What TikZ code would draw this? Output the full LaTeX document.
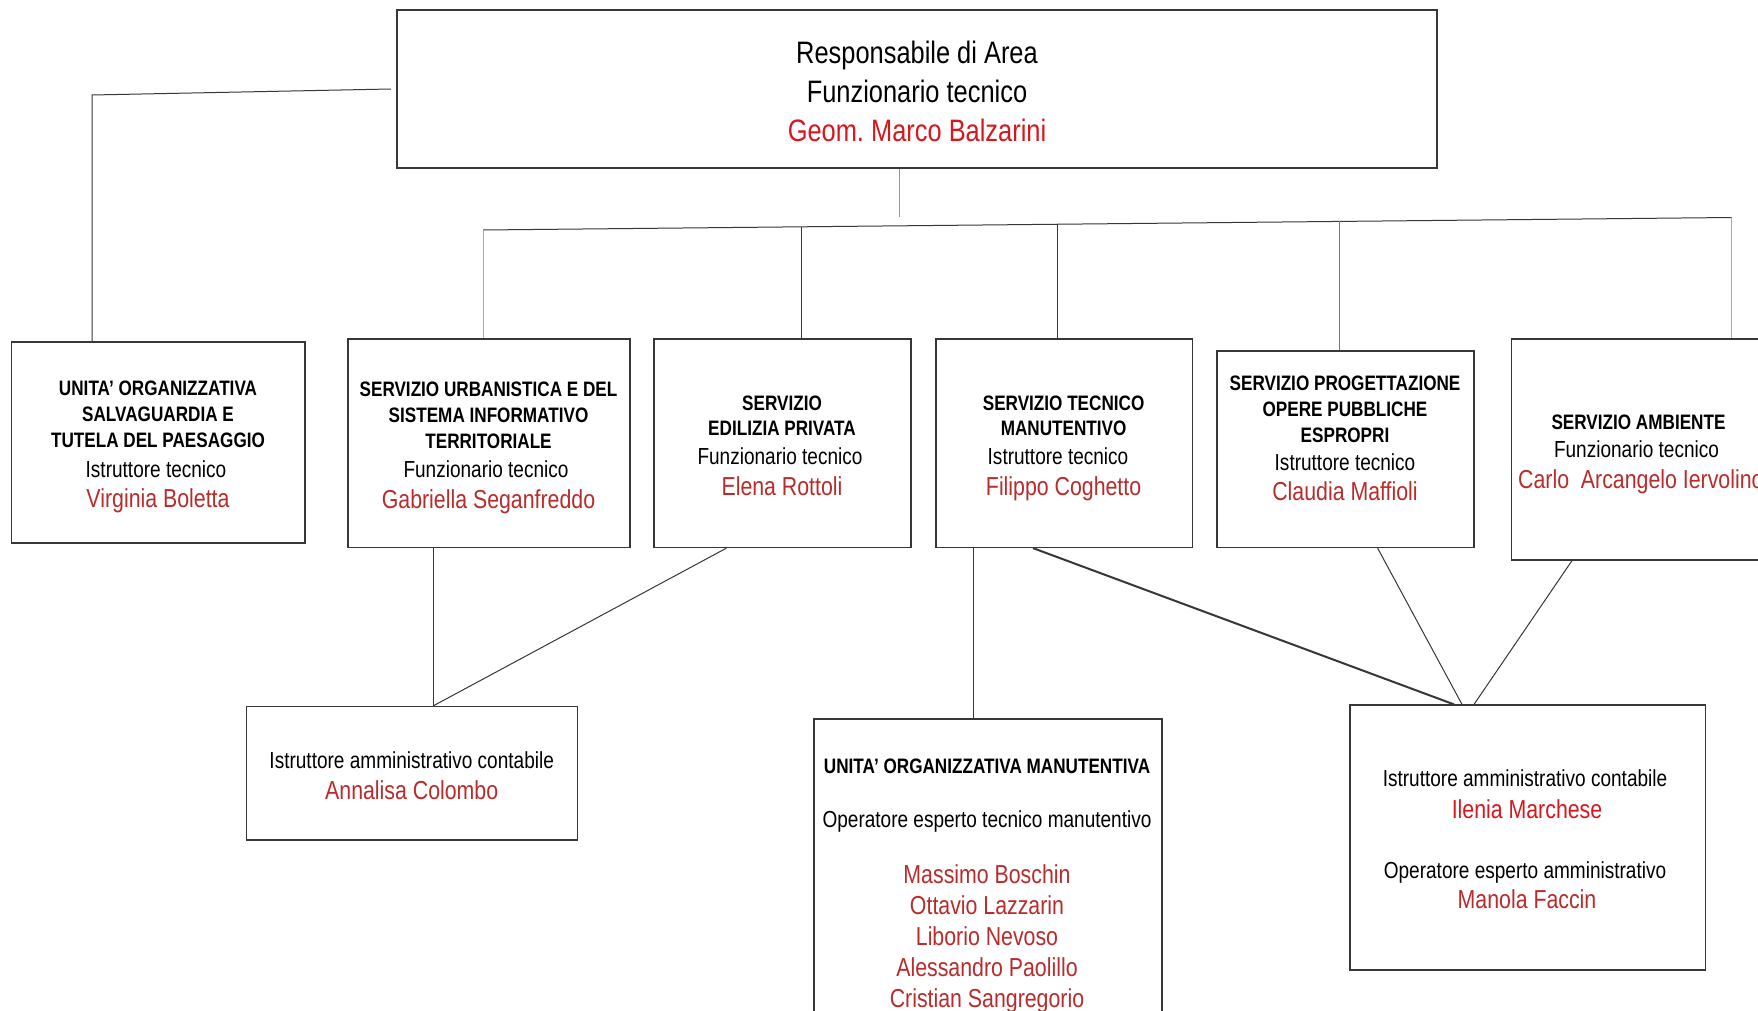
\documentclass[tikz,border=0pt]{standalone}
\usepackage{fontspec}
\setmainfont{Liberation Sans}[FakeStretch=0.82]
\usetikzlibrary{calc}
\definecolor{namered}{RGB}{184,44,44}
\definecolor{brightred}{RGB}{214,24,30}
\definecolor{linegray}{RGB}{55,55,55}
\definecolor{bluegray}{RGB}{150,172,190}
\definecolor{midgray}{RGB}{150,150,150}
\frenchspacing
\begin{document}
\begin{tikzpicture}[x=1pt,y=-1pt,
 box/.style={draw=linegray, line width=1.2pt, inner sep=0pt},
 conn/.style={draw=linegray, line width=1pt},
 big/.style={font=\fontsize{31}{36}\selectfont, inner sep=0pt, text height=22.2pt, text depth=0pt},
 hd/.style={font=\fontsize{20.9}{24}\selectfont\bfseries, inner sep=0pt, text height=15pt, text depth=0pt},
 rl/.style={font=\fontsize{23.2}{28}\selectfont, inner sep=0pt, text height=16.6pt, text depth=0pt},
 nm/.style={font=\fontsize{26}{30}\selectfont, text=namered, inner sep=0pt, text height=18.6pt, text depth=0pt},
 nmb/.style={nm, text=brightred}
]
\useasboundingbox (0,0) rectangle (1758,1011);
\fill[white] (0,0) rectangle (1758,1011);
\clip (0,0) rectangle (1758,1011);

% boxes
\node[box, minimum width=1040pt, minimum height=158pt] (top) at (917,89) {};
\node[box, minimum width=293.5pt, minimum height=201pt] (b1) at (158.25,442.5) {};
\node[box, minimum width=282pt, minimum height=208.5pt] (b2) at (489,443.25) {};
\node[box, minimum width=257pt, minimum height=208.5pt] (b3) at (782.5,443.25) {};
\node[box, minimum width=256.4pt, minimum height=208.5pt] (b4) at (1064.2,443.25) {};
\node[box, minimum width=257pt, minimum height=196.5pt] (b5) at (1345.5,449.25) {};
\node[box, minimum width=258pt, minimum height=221pt] (b6) at (1640.6,449.5) {};
\node[box, minimum width=331pt, minimum height=133.7pt] (ba) at (412.15,773.15) {};
\node[box, minimum width=348pt, minimum height=321pt] (bm) at (988,879.5) {};
\node[box, minimum width=355.6pt, minimum height=265pt] (bi) at (1527.8,837.5) {};

% top texts
\node[big] (t1) at (917,52) {Responsabile di Area};
\node[big] (t2) at (917,91) {Funzionario tecnico};
\node[big, text=brightred] (t3) at (917,130) {Geom. Marco Balzarini};

% box 1
\node[hd] (a1) at (158,388) {UNITA’ ORGANIZZATIVA};
\node[hd] (a2) at (158,414) {SALVAGUARDIA E};
\node[hd] (a3) at (158,440) {TUTELA DEL PAESAGGIO};
\node[rl] (a4) at (156,469) {Istruttore tecnico};
\node[nm] (a5) at (158,498) {Virginia Boletta};

% box 2
\node[hd] (c1) at (488.5,389) {SERVIZIO URBANISTICA E DEL};
\node[hd] (c2) at (488.5,415) {SISTEMA INFORMATIVO};
\node[hd] (c3) at (488.5,441) {TERRITORIALE};
\node[rl] (c4) at (486,469.6) {Funzionario tecnico};
\node[nm] (c5) at (488.5,499) {Gabriella Seganfreddo};

% box 3
\node[hd] (d1) at (782,402.5) {SERVIZIO};
\node[hd] (d2) at (782,428) {EDILIZIA PRIVATA};
\node[rl] (d3) at (780,456) {Funzionario tecnico};
\node[nm] (d4) at (782,486) {Elena Rottoli};

% box 4
\node[hd] (e1) at (1063.6,402.5) {SERVIZIO TECNICO};
\node[hd] (e2) at (1063.6,428) {MANUTENTIVO};
\node[rl] (e3) at (1058,456.4) {Istruttore tecnico};
\node[nm] (e4) at (1063.6,486) {Filippo Coghetto};

% box 5
\node[hd] (f1) at (1345,383) {SERVIZIO PROGETTAZIONE};
\node[hd] (f2) at (1345,409) {OPERE PUBBLICHE};
\node[hd] (f3) at (1345,434.6) {ESPROPRI};
\node[rl] (f4) at (1345,462.5) {Istruttore tecnico};
\node[nm] (f5) at (1345,491) {Claudia Maffioli};

% box 6
\node[hd] (g1) at (1638.5,422) {SERVIZIO AMBIENTE};
\node[rl] (g2) at (1636.5,449) {Funzionario tecnico};
\node[nm, anchor=west] (g3) at (1518,479.6) {Carlo\ \ Arcangelo Iervolino};

% Annalisa box
\node[rl] (h1) at (411.7,760) {Istruttore amministrativo contabile};
\node[nm] (h2) at (411.7,790) {Annalisa Colombo};

% Manutentiva box
\node[hd] (m1) at (987,766) {UNITA’ ORGANIZZATIVA MANUTENTIVA};
\node[rl] (m2) at (987,819) {Operatore esperto tecnico manutentivo};
\node[nm] (m3) at (987,874) {Massimo Boschin};
\node[nm] (m4) at (987,905) {Ottavio Lazzarin};
\node[nm] (m5) at (987,936) {Liborio Nevoso};
\node[nm] (m6) at (987,966.7) {Alessandro Paolillo};
\node[nm] (m7) at (987,997.7) {Cristian Sangregorio};

% Ilenia box
\node[rl] (i1) at (1525,778) {Istruttore amministrativo contabile};
\node[nmb] (i2) at (1527,809) {Ilenia Marchese};
\node[rl] (i3) at (1525,870) {Operatore esperto amministrativo};
\node[nm] (i4) at (1527,899) {Manola Faccin};

% connectors from top
\coordinate (k1) at (92,95);
\draw[conn] ($(top.west)+(-5.5,0)$) -- (k1) -- (k1 |- b1.north);
\coordinate (tb) at (899.6,217);
\draw[conn, draw=midgray] (tb |- top.south) -- (tb);
\coordinate (busL) at (483,230);
\coordinate (busR) at (1731.6,217.5);
\draw[conn] (busL) -- (busR);
\path (busL) -- (busR) coordinate[pos=0.2547] (v3) coordinate[pos=0.4605] (v4) coordinate[pos=0.6861] (v5);
\draw[conn, draw=bluegray] (busL) -- (busL |- b2.north);
\draw[conn] (v3) -- (v3 |- b3.north);
\draw[conn] (v4) -- (v4 |- b4.north);
\draw[conn, draw=midgray!80!black] (v5) -- (v5 |- b5.north);
\draw[conn, draw=bluegray] (busR) -- (busR |- b6.north);

% lower connectors
\coordinate (ja) at ($(ba.north)+(21.4,0)$);
\draw[conn] (ja |- b2.south) -- (ja);
\draw[conn] ($(b3.south)+(-56,0)$) -- (ja);
\coordinate (jm) at ($(bm.north)+(-15,0)$);
\draw[conn] (jm |- b4.south) -- (jm);
\coordinate (ji1) at ($(bi.north)+(-73.8,0)$);
\coordinate (ji2) at ($(bi.north)+(-65.8,0)$);
\coordinate (ji3) at ($(bi.north)+(-53.8,0)$);
\draw[conn, line width=2pt] ($(b4.south)+(-31.2,0)$) -- (ji1);
\draw[conn] ($(b5.south)+(32.1,0)$) -- (ji2);
\draw[conn] ($(b6.south)+(-68.6,0)$) -- (ji3);
\end{tikzpicture}
\end{document}
